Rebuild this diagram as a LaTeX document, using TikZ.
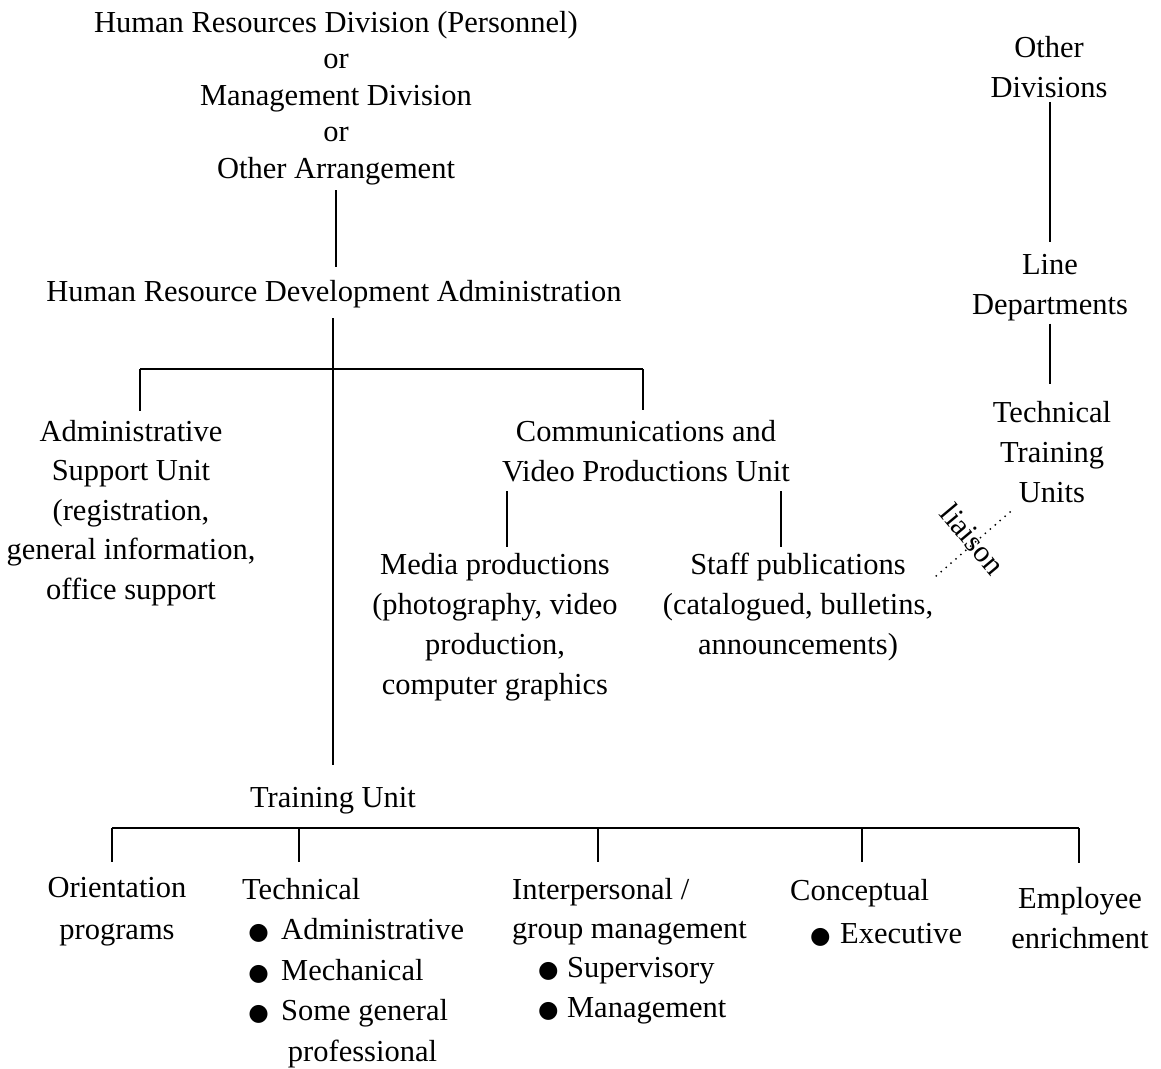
\documentclass[tikz,border=0pt]{standalone}
\usepackage{fontspec}
\setmainfont{Liberation Serif}
\newfontfamily\dejavu{DejaVu Sans}
\newcommand\bitem[2]{\hspace*{#1}\makebox[#2][l]{{\dejavu\fontsize{23.5}{23.5}\selectfont ●}}}
\newcommand\fs[1]{\fontsize{30.5}{#1}\selectfont}
\begin{document}
\begin{tikzpicture}[x=1pt,y=-1pt,
  txt/.style={align=center,inner sep=0pt,font=\fs{39.5}},
  lft/.style={align=left,inner sep=0pt,anchor=west,font=\fs{40}},
  ln/.style={line width=1.3pt},
  dots/.style={line width=2pt,line cap=round,dash pattern=on 0pt off 6.5pt}]
\fill[white] (0,0) rectangle (1161,1068);
\useasboundingbox (0,0) rectangle (1161,1068);

% text nodes
\node[txt,font=\fs{36.5}] (top) at (336,98) {Human Resources Division (Personnel)\\or\\Management Division\\or\\Other Arrangement};
\node[txt] (hrd) at (334,294) {Human Resource Development Administration};
\node[txt] (adm) at (131,513) {Administrative\\Support Unit\\(registration,\\general information,\\office support};
\node[txt] (comm) at (646,451) {Communications and\\Video Productions Unit};
\node[txt,font=\fs{40}] (media) at (495,627) {Media productions\\(photography, video\\production,\\computer graphics};
\node[txt,font=\fs{40}] (staff) at (798,607) {Staff publications\\(catalogued, bulletins,\\announcements)};
\node[txt,font=\fs{40}] (odiv) at (1049,67) {Other\\Divisions};
\node[txt,font=\fs{40}] (ldep) at (1050,288) {Line\\Departments};
\node[txt,font=\fs{40}] (ttu) at (1052,452) {Technical\\Training\\Units};
\node[txt] (train) at (333,801) {Training Unit};
\node[txt,font=\fs{42}] (orient) at (117,912) {Orientation\\programs};
\node[lft,font=\fs{40.5}] (tech) at (242,973) {Technical\\\bitem{0.2em}{1.08em}Administrative\\\bitem{0.2em}{1.08em}Mechanical\\\bitem{0.2em}{1.08em}Some general\\\hspace*{1.5em}professional};
\node[lft,font=\fs{39.3}] (inter) at (512,951) {Interpersonal /\\group management\\\bitem{0.85em}{0.95em}Supervisory\\\bitem{0.85em}{0.95em}Management};
\node[lft,font=\fs{43}] (conc) at (790,912.5) {Conceptual\\\bitem{0.65em}{0.99em}Executive};
\node[txt,font=\fs{40}] (empl) at (1080,918) {Employee\\enrichment};
\node[inner sep=0pt,font=\fs{36},rotate=-50] (lia) at (973,539) {liaison};

% junction coordinates
\coordinate (b1l) at (140,369);
\coordinate (b1r) at (643,369);
\coordinate (c1) at (507,491);
\coordinate (c2) at (781,491);
\coordinate (l1) at (1010,512);
\coordinate (l2) at (935,577);
\coordinate (b2a) at (112,828);
\coordinate (b2b) at (299,828);
\coordinate (b2c) at (598,828);
\coordinate (b2d) at (862,828);
\coordinate (b2e) at (1079,828);
\coordinate (hrdtop) at (333,190);
\coordinate (hrdbot) at (333,318);
\coordinate (trtop) at (333,765);

% connectors
\draw[ln] (top.south |- hrdtop) -- ([yshift=13pt]top.south |- hrd.north);
\draw[ln] (hrdbot) -- (trtop);
\draw[ln] (b1l) -- (b1r);
\draw[ln] (b1l) -- ++(0,42) coordinate (admtop);
\draw[ln] (b1r) -- ++(0,41) coordinate (commtop);
\draw[ln] (c1) -- ++(0,56) coordinate (mediatop);
\draw[ln] (c2) -- ++(0,56) coordinate (stafftop);
\draw[ln] ([yshift=-4pt]odiv.south -| ldep.north) -- ([yshift=12pt]ldep.north);
\draw[ln] ([yshift=-2pt]ldep.south) -- ([yshift=17pt]ldep.south |- ttu.north);
\draw[dots] (l1) -- (l2);
\draw[ln] (b2a) -- (b2e);
\foreach \c in {b2a,b2b,b2c,b2d}{\draw[ln] (\c) -- ++(0,34) coordinate (\c-end);}
\draw[ln] (b2e) -- ++(0,35) coordinate (b2e-end);
\end{tikzpicture}
\end{document}
